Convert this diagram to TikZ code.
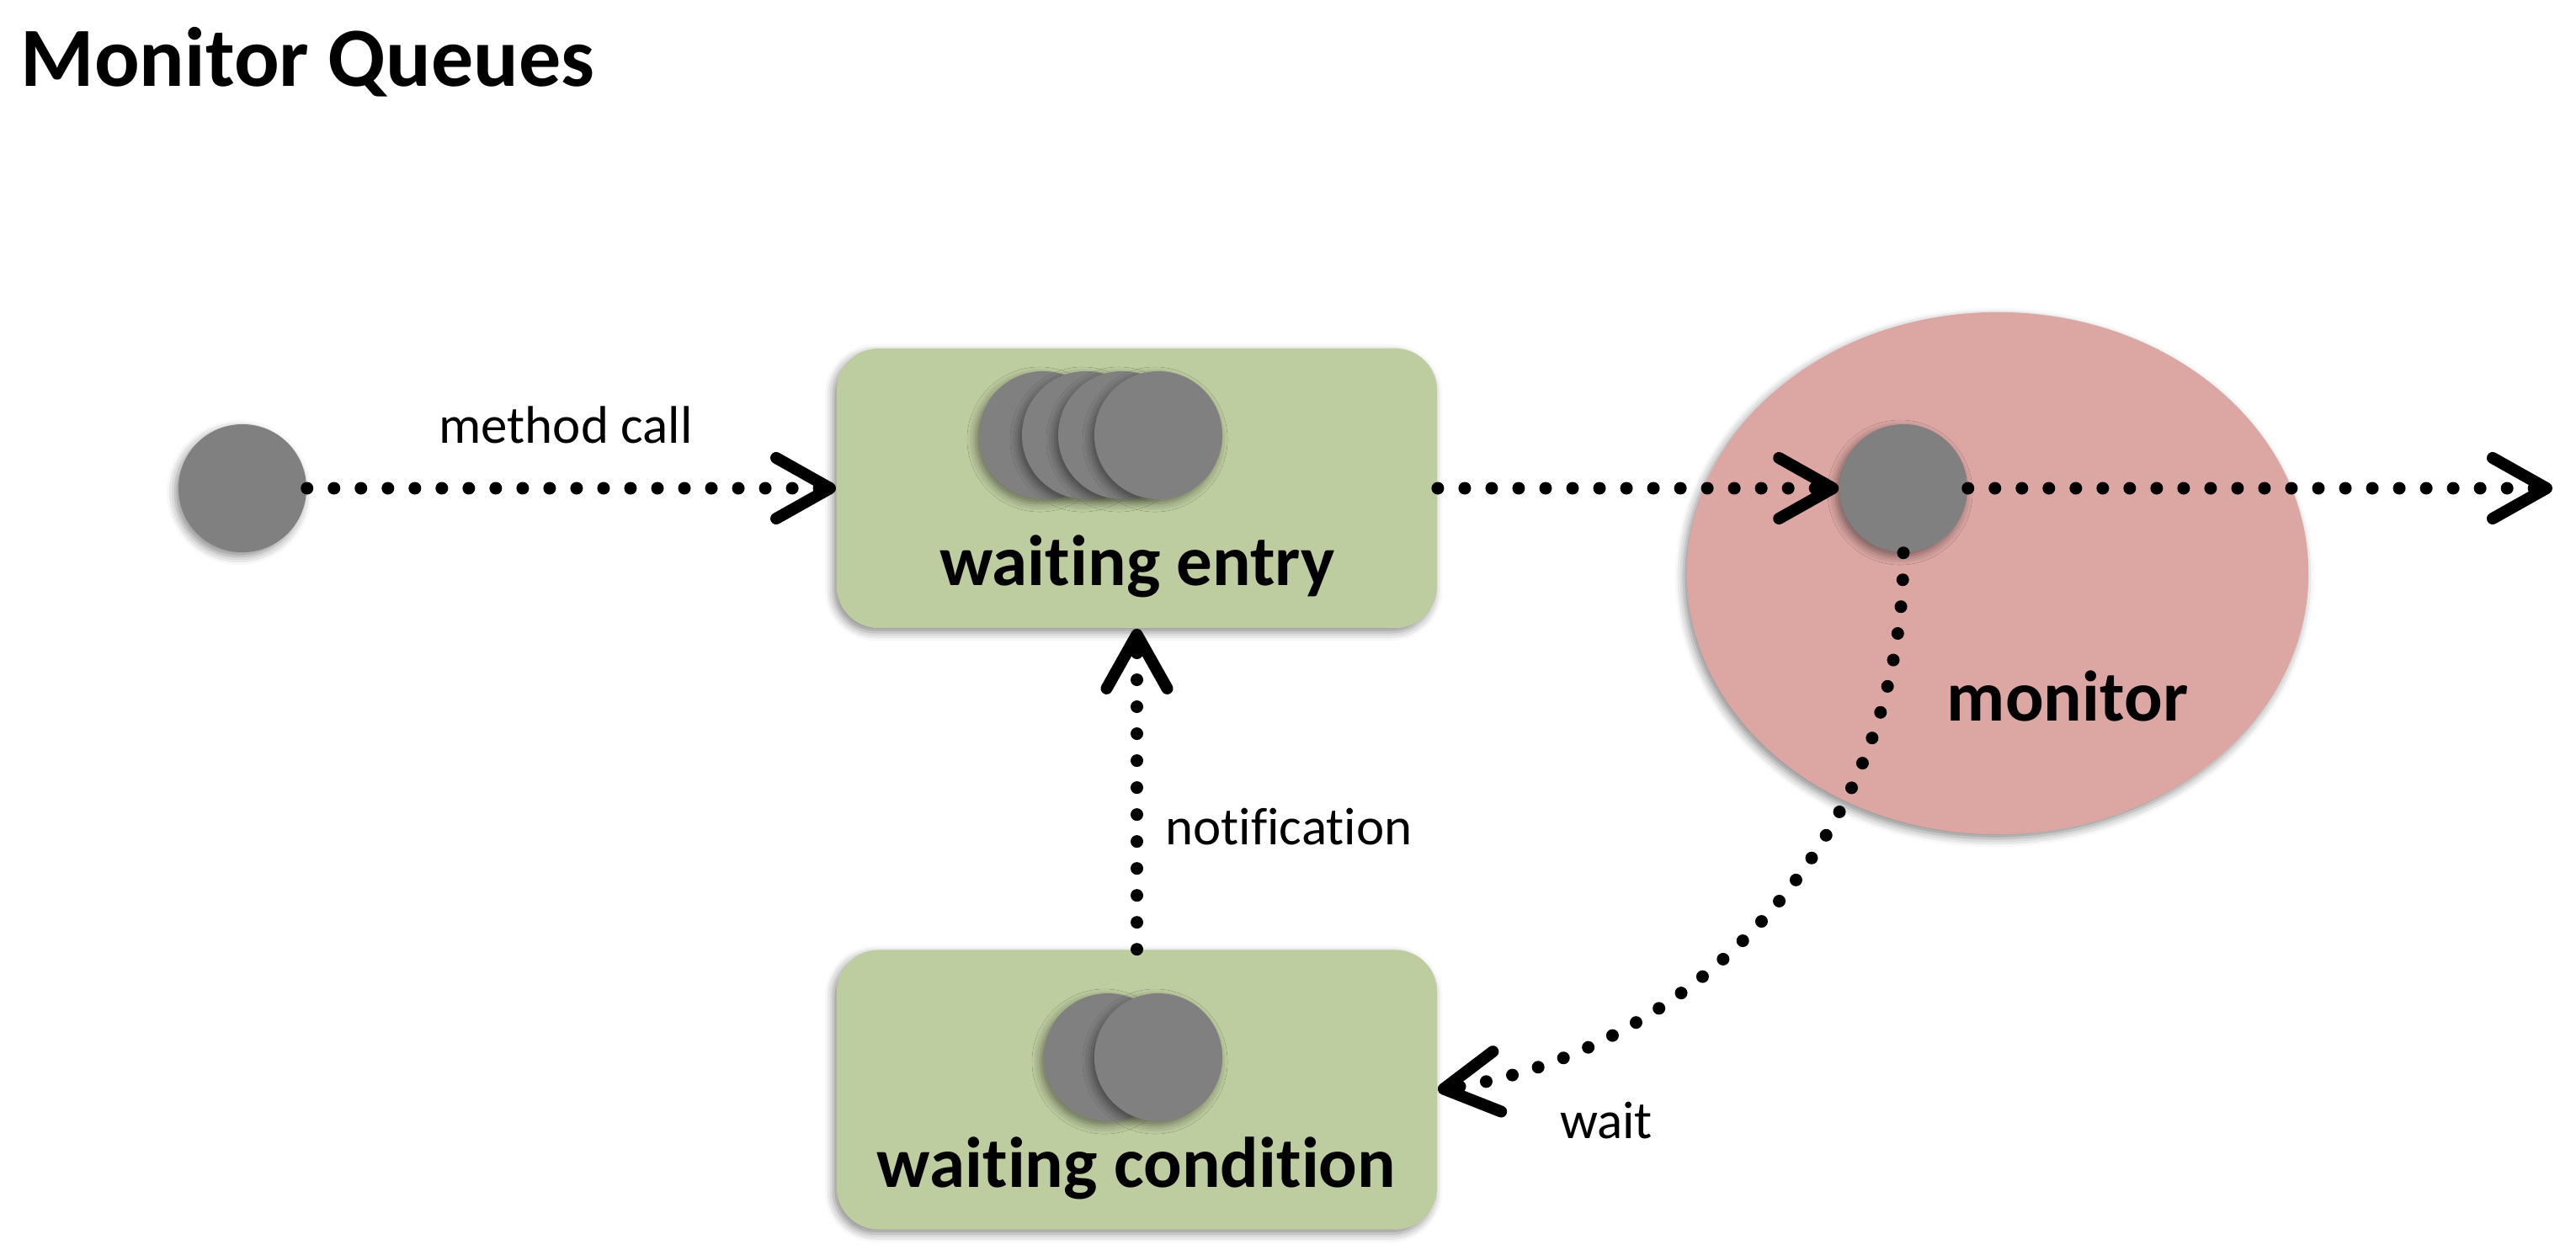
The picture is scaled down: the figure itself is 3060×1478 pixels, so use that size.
\documentclass[tikz,border=0pt]{standalone}
\usepackage{fontspec}
\setmainfont{Carlito}[Ligatures=NoCommon]
\usetikzlibrary{arrows.meta,shapes.geometric,shadows.blur}
\definecolor{qgreen}{RGB}{190,205,160}
\definecolor{mpink}{RGB}{220,166,163}
\definecolor{tokgray}{RGB}{128,128,128}
\tikzset{
  gshadow/.style={blur shadow={shadow xshift=-0.04cm, shadow yshift=-0.05cm, shadow blur radius=0.1cm, shadow opacity=45}},
  token/.style={circle, fill=tokgray, minimum size=1.52cm, inner sep=0pt, gshadow},
  queue/.style={rectangle, rounded corners=0.5cm, fill=qgreen, minimum width=7.13cm, minimum height=3.32cm, inner sep=0pt, gshadow},
  flow/.style={line width=0.15cm, line cap=round, dash pattern=on 0pt off 0.32cm,
    -{Straight Barb[length=0.64cm, width=0.72cm, line width=0.14cm, round]}},
  boldlabel/.style={inner sep=0pt, anchor=base, font=\bfseries\fontsize{24.2pt}{29pt}\selectfont},
  plainlabel/.style={inner sep=0pt, anchor=base, font=\fontsize{17.9pt}{21pt}\selectfont},
}
\begin{document}
\begin{tikzpicture}[x=0.01cm, y=-0.01cm]
\useasboundingbox (0,0) rectangle (3060,1478);
% title
\node[inner sep=0pt, anchor=base west, font=\bfseries\fontsize{28.45pt}{34pt}\selectfont] (title) at (24,102) {Monitor Queues};
% shapes
\node[token] (src) at (288,580) {};
\node[queue] (entry) at (1350.5,580) {};
\node[queue] (cond) at (1350.5,1294.5) {};
\node[ellipse, fill=mpink, minimum width=7.38cm, minimum height=6.2cm, inner sep=0pt, gshadow] (mon) at (2373,681) {};
% tokens in entry queue
\node[token] (e1) at (1239,517) {};
\node[token] (e2) at (1290,517) {};
\node[token] (e3) at (1333,517) {};
\node[token] (e4) at (1376,517) {};
% tokens in condition queue
\node[token] (c1) at (1316,1256) {};
\node[token] (c2) at (1376,1256) {};
% token in monitor
\node[token] (cur) at (2261,580) {};
% labels
\node[boldlabel] (lentry) at (1351,695) {waiting entry};
\node[boldlabel] (lcond) at (1350,1410) {waiting condition};
\node[boldlabel] (lmon) at (2456,856) {monitor};
\node[plainlabel] (lcall) at (672,526) {method call};
\node[plainlabel] (lnote) at (1531,1003) {notification};
\node[plainlabel] (lwait) at (1908,1352) {wait};
% connectors
\coordinate (out) at (3032,580);
\draw[flow] (src.east) -- (entry.west);
\draw[flow] (entry.east) -- (cur.west);
\draw[flow] (cur.east) -- (out);
\draw[flow] (cond.north) -- (entry.south);
\draw[flow] (cur.south) .. controls (2261,1010) and (1995,1255) .. (cond.east);
\end{tikzpicture}
\end{document}
